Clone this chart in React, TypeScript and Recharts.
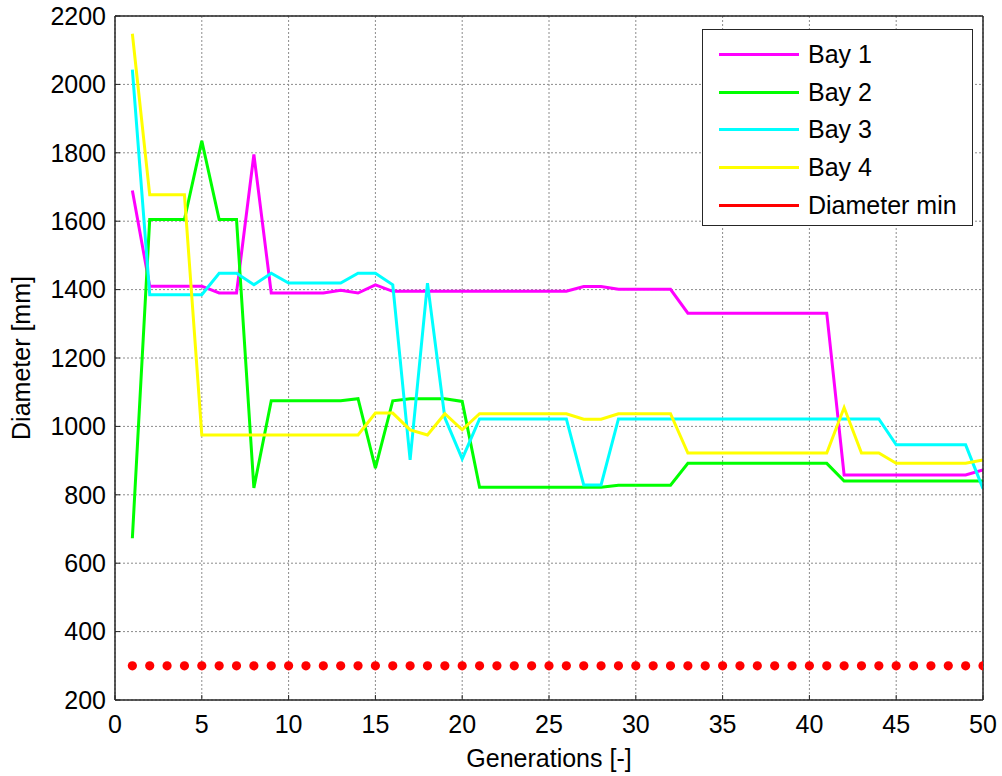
import React from 'react'
import {
  LineChart,
  Line,
  XAxis,
  YAxis,
  CartesianGrid,
  Legend,
} from 'recharts'

const FONT = '"Liberation Sans", Arial, Helvetica, sans-serif'
const AXIS_COLOR = '#262626'

// generation index 1..50
const GENERATIONS = Array.from({ length: 50 }, (_, i) => i + 1)

// diameters per bay [mm]
const BAY_1 = [
  1690, 1410, 1410, 1410, 1410, 1390, 1390, 1795, 1390, 1390,
  1390, 1390, 1398, 1390, 1414, 1395, 1395, 1395, 1395, 1395,
  1395, 1395, 1395, 1395, 1395, 1395, 1409, 1409, 1401, 1401,
  1401, 1401, 1331, 1331, 1331, 1331, 1331, 1331, 1331, 1331,
  1331, 858, 858, 858, 858, 858, 858, 858, 858, 873,
]
const BAY_2 = [
  673, 1605, 1605, 1605, 1835, 1605, 1605, 820, 1075, 1075,
  1075, 1075, 1075, 1081, 878, 1075, 1081, 1081, 1081, 1073,
  822, 822, 822, 822, 822, 822, 822, 822, 828, 828,
  828, 828, 892, 892, 892, 892, 892, 892, 892, 892,
  892, 840, 840, 840, 840, 840, 840, 840, 840, 840,
]
const BAY_3 = [
  2043, 1385, 1385, 1385, 1385, 1448, 1448, 1414, 1448, 1419,
  1419, 1419, 1419, 1448, 1448, 1414, 902, 1419, 1025, 905,
  1022, 1022, 1022, 1022, 1022, 1022, 829, 829, 1022, 1022,
  1022, 1022, 1022, 1022, 1022, 1022, 1022, 1022, 1022, 1022,
  1022, 1022, 1022, 1022, 946, 946, 946, 946, 946, 818,
]
const BAY_4 = [
  2148, 1677, 1677, 1677, 975, 975, 975, 975, 975, 975,
  975, 975, 975, 975, 1039, 1039, 990, 975, 1037, 990,
  1037, 1037, 1037, 1037, 1037, 1037, 1021, 1021, 1037, 1037,
  1037, 1037, 922, 922, 922, 922, 922, 922, 922, 922,
  922, 1055, 922, 922, 892, 892, 892, 892, 892, 902,
]
const DIAMETER_MIN = 300

const X_TICKS = [0, 5, 10, 15, 20, 25, 30, 35, 40, 45, 50]
const Y_TICKS = [200, 400, 600, 800, 1000, 1200, 1400, 1600, 1800, 2000, 2200]

const SERIES = [
  { key: 'bay1', label: 'Bay 1', color: '#ff00ff' },
  { key: 'bay2', label: 'Bay 2', color: '#00ff00' },
  { key: 'bay3', label: 'Bay 3', color: '#00ffff' },
  { key: 'bay4', label: 'Bay 4', color: '#ffff00' },
  { key: 'dmin', label: 'Diameter min', color: '#ff0000' },
]

const data = GENERATIONS.map((g, i) => ({
  gen: g,
  bay1: BAY_1[i],
  bay2: BAY_2[i],
  bay3: BAY_3[i],
  bay4: BAY_4[i],
  dmin: DIAMETER_MIN,
}))

const tickStyle = { fill: '#000', fontSize: 25, fontFamily: FONT }

function LegendBox() {
  return (
    <div
      style={{
        boxSizing: 'border-box',
        width: 271,
        height: 197,
        border: `1.5px solid ${AXIS_COLOR}`,
        background: '#fff',
        padding: '6px 0 0 16px',
        fontFamily: FONT,
        fontSize: 25,
        color: '#000',
      }}
    >
      {SERIES.map((s) => (
        <div key={s.key} style={{ display: 'flex', alignItems: 'center', height: 37.6 }}>
          <span style={{ display: 'inline-block', width: 80, height: 3, background: s.color }} />
          <span style={{ marginLeft: 9, lineHeight: '25px' }}>{s.label}</span>
        </div>
      ))}
    </div>
  )
}

export default function App() {
  return (
    <div style={{ position: 'absolute', left: 0, top: 0, width: 1002, height: 776, background: '#fff' }}>
      <LineChart
        width={1002}
        height={776}
        data={data}
        margin={{ top: 15, right: 18, bottom: 0, left: 0 }}
        style={{ fontFamily: FONT }}
      >
        <CartesianGrid stroke="#8c8c8c" strokeDasharray="2 2" />
        <XAxis
          dataKey="gen"
          type="number"
          domain={[0, 50]}
          ticks={X_TICKS}
          allowDataOverflow
          height={76}
          tick={tickStyle}
          tickSize={-5}
          tickMargin={20}
          tickLine={{ stroke: AXIS_COLOR }}
          axisLine={{ stroke: AXIS_COLOR, strokeWidth: 1.5 }}
          label={{
            value: 'Generations [-]',
            position: 'insideBottom',
            offset: 9,
            fill: '#000',
            fontSize: 25,
            fontFamily: FONT,
          }}
        />
        <XAxis
          xAxisId="top"
          orientation="top"
          type="number"
          domain={[0, 50]}
          ticks={X_TICKS}
          allowDataOverflow
          height={1}
          tick={false}
          tickSize={-5}
          tickLine={{ stroke: AXIS_COLOR }}
          axisLine={{ stroke: AXIS_COLOR, strokeWidth: 1.5 }}
        />
        <YAxis
          type="number"
          domain={[200, 2200]}
          ticks={Y_TICKS}
          allowDataOverflow
          width={115}
          tick={tickStyle}
          tickSize={-5}
          tickMargin={14}
          tickLine={{ stroke: AXIS_COLOR }}
          axisLine={{ stroke: AXIS_COLOR, strokeWidth: 1.5 }}
          label={{
            value: 'Diameter [mm]',
            angle: -90,
            position: 'insideLeft',
            offset: 21,
            fill: '#000',
            fontSize: 25,
            fontFamily: FONT,
            style: { textAnchor: 'middle' },
          }}
        />
        <YAxis
          yAxisId="right"
          orientation="right"
          type="number"
          domain={[200, 2200]}
          ticks={Y_TICKS}
          allowDataOverflow
          width={1}
          tick={false}
          tickSize={-5}
          tickLine={{ stroke: AXIS_COLOR }}
          axisLine={{ stroke: AXIS_COLOR, strokeWidth: 1.5 }}
        />
        <Legend
          layout="vertical"
          align="center"
          verticalAlign="middle"
          wrapperStyle={{ left: 702, top: 29, width: 271, height: 197 }}
          content={() => <LegendBox />}
        />
        {SERIES.slice(0, 4).map((s) => (
          <Line
            key={s.key}
            type="linear"
            dataKey={s.key}
            name={s.label}
            stroke={s.color}
            strokeWidth={3}
            dot={false}
            isAnimationActive={false}
          />
        ))}
        <Line
          type="linear"
          dataKey="dmin"
          name="Diameter min"
          stroke="none"
          dot={{ r: 4.6, fill: '#ff0000', stroke: 'none' }}
          isAnimationActive={false}
        />
      </LineChart>
    </div>
  )
}
